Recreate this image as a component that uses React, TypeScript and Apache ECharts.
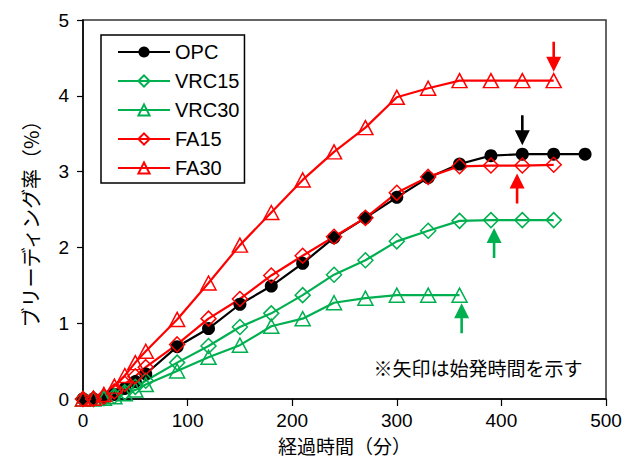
import React, { useEffect, useRef } from 'react';
import * as echarts from 'echarts';

// elapsed time (min)
const times = [0, 10, 20, 30, 40, 50, 60, 90, 120, 150, 180, 210, 240, 270, 300, 330, 360, 390, 420, 450, 480];

const seriesNames = ['OPC', 'VRC15', 'VRC30', 'FA15', 'FA30'];

// bleeding rate (%)
const opc = [0, 0, 0.01, 0.06, 0.14, 0.23, 0.33, 0.69, 0.93, 1.25, 1.49, 1.79, 2.13, 2.39, 2.66, 2.92, 3.10, 3.21, 3.23, 3.23, 3.23];
const vrc15 = [0, 0, 0.01, 0.04, 0.09, 0.16, 0.24, 0.48, 0.70, 0.95, 1.13, 1.37, 1.64, 1.83, 2.08, 2.22, 2.35, 2.36, 2.36, 2.36];
const vrc30 = [0, 0, 0.01, 0.03, 0.07, 0.12, 0.19, 0.37, 0.55, 0.71, 0.96, 1.06, 1.27, 1.33, 1.37, 1.37, 1.37];
const fa15 = [0, 0, 0.03, 0.10, 0.20, 0.30, 0.42, 0.72, 1.06, 1.32, 1.63, 1.89, 2.14, 2.39, 2.72, 2.93, 3.07, 3.08, 3.08, 3.09];
const fa30 = [0, 0.01, 0.06, 0.17, 0.31, 0.48, 0.63, 1.05, 1.53, 2.03, 2.46, 2.89, 3.26, 3.58, 3.98, 4.10, 4.20, 4.20, 4.20, 4.20];

// start-of-setting arrows
const arrowSeries = ['OPC', 'FA30', 'FA15', 'VRC15', 'VRC30'];
const arrowTimes = [420, 450, 415, 393, 362];
const arrowValues = [3.23, 4.20, 3.08, 2.36, 1.37];
const arrowDirs = ['down', 'down', 'up', 'up', 'up'];

const xTicks = [0, 100, 200, 300, 400, 500];
const yTicks = [0, 1, 2, 3, 4, 5];

const xTitle = '経過時間（分）';
const yTitle = 'ブリーディング率（%）';
const note = '※矢印は始発時間を示す';

const GREEN = '#00B050';
const RED = '#FF0000';
const BLACK = '#000000';

const styleOf: Record<string, { color: string; symbol: string; size: number | number[]; filled: boolean }> = {
  OPC: { color: BLACK, symbol: 'circle', size: 13, filled: true },
  VRC15: { color: GREEN, symbol: 'diamond', size: [15, 15], filled: false },
  VRC30: { color: GREEN, symbol: 'triangle', size: [15, 14], filled: false },
  FA15: { color: RED, symbol: 'diamond', size: [15, 15], filled: false },
  FA30: { color: RED, symbol: 'triangle', size: [15, 14], filled: false },
};

const valuesOf: Record<string, number[]> = { OPC: opc, VRC15: vrc15, VRC30: vrc30, FA15: fa15, FA30: fa30 };

const ARROW_DOWN = 'path://M6.2,0L8.8,0L8.8,15L15,15L7.5,30L0,15L6.2,15Z';
const ARROW_UP = 'path://M7.5,0L15,15L8.8,15L8.8,30L6.2,30L6.2,15L0,15Z';

export default function App() {
  const ref = useRef<HTMLDivElement>(null);
  useEffect(() => {
    if (!ref.current) return;
    const chart = echarts.init(ref.current, null, { renderer: 'svg' });
    const latin = 'Liberation Sans, Arial, sans-serif';
    const jp = 'Noto Sans CJK JP, sans-serif';

    const lineSeries = seriesNames.map((name) => {
      const s = styleOf[name];
      const vals = valuesOf[name];
      return {
        name,
        type: 'line',
        data: vals.map((v, i) => [times[i], v]),
        symbol: s.symbol,
        symbolSize: s.size,
        showSymbol: true,
        lineStyle: { color: s.color, width: 2.2 },
        itemStyle: {
          color: s.filled ? s.color : 'rgba(255,255,255,0)',
          borderColor: s.color,
          borderWidth: s.filled ? 0 : 1.5,
        },
        emphasis: { disabled: true },
      };
    });

    const arrowData = arrowSeries.map((name, i) => {
      const color = styleOf[name].color;
      const down = arrowDirs[i] === 'down';
      return {
        value: [arrowTimes[i], arrowValues[i]],
        symbol: down ? ARROW_DOWN : ARROW_UP,
        symbolSize: [15, 30],
        symbolOffset: [0, down ? -24 : 23],
        itemStyle: { color, opacity: 1 },
      };
    });

    chart.setOption({
      animation: false,
      backgroundColor: '#fff',
      grid: {
        left: 83,
        right: 33,
        top: 20,
        bottom: 66,
        show: true,
        borderColor: '#333',
        borderWidth: 1.5,
        backgroundColor: 'transparent',
      },
      legend: {
        data: seriesNames,
        orient: 'vertical',
        left: 101,
        top: 35,
        padding: [7, 5, 5, 16],
        itemWidth: 52,
        itemHeight: 14,
        itemGap: 9,
        borderColor: '#000',
        borderWidth: 1.5,
        backgroundColor: '#fff',
        textStyle: { fontSize: 20, fontFamily: latin, color: '#000', lineHeight: 20 },
      },
      xAxis: {
        type: 'value',
        min: xTicks[0],
        max: xTicks[xTicks.length - 1],
        interval: xTicks[1] - xTicks[0],
        axisLine: { show: true, onZero: false, lineStyle: { color: '#000', width: 1.5 } },
        axisTick: { show: true, inside: false, length: 7, lineStyle: { color: '#000', width: 1.2 } },
        splitLine: { show: false },
        axisLabel: { fontSize: 19, color: '#000', fontFamily: latin, margin: 12 },
        name: xTitle,
        nameLocation: 'middle',
        nameGap: 37,
        nameTextStyle: { fontSize: 19, fontFamily: jp, color: '#000' },
      },
      yAxis: {
        type: 'value',
        min: yTicks[0],
        max: yTicks[yTicks.length - 1],
        interval: yTicks[1] - yTicks[0],
        axisLine: { show: true, onZero: false, lineStyle: { color: '#000', width: 1.5 } },
        axisTick: { show: true, inside: false, length: 6, lineStyle: { color: '#000', width: 1.2 } },
        splitLine: { show: false },
        axisLabel: { fontSize: 19, color: '#000', fontFamily: latin, margin: 14 },
      },
      graphic: [
        {
          type: 'text',
          x: 30,
          y: 219,
          rotation: Math.PI / 2,
          style: {
            text: yTitle,
            fontSize: 20,
            fontFamily: jp,
            fill: '#000',
            textAlign: 'center',
            textVerticalAlign: 'middle',
          },
        },
        {
          type: 'text',
          x: 478,
          y: 367,
          style: {
            text: note,
            fontSize: 19,
            fontFamily: jp,
            fill: '#000',
            textAlign: 'center',
            textVerticalAlign: 'middle',
          },
        },
      ],
      series: [
        ...lineSeries,
        {
          name: 'arrows',
          type: 'scatter',
          data: arrowData,
          silent: true,
          itemStyle: { opacity: 1 },
          z: 5,
        },
      ],
    });
    return () => chart.dispose();
  }, []);
  return (
    <div
      ref={ref}
      style={{ position: 'fixed', left: 0, top: 0, width: 639, height: 465 }}
    />
  );
}
